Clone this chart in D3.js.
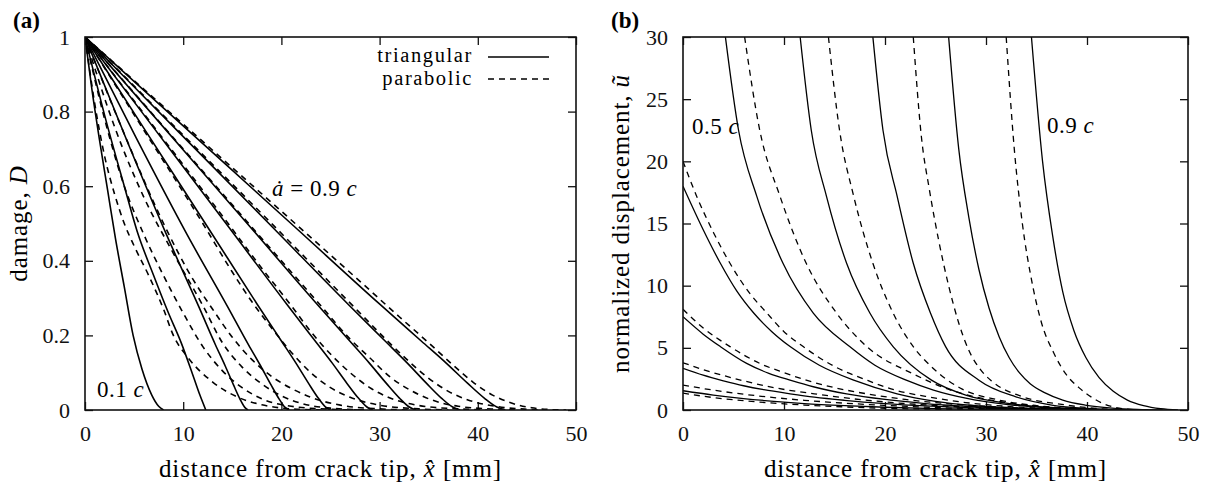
<!DOCTYPE html>
<html>
<head>
<meta charset="utf-8">
<script src="https://cdnjs.cloudflare.com/ajax/libs/d3/7.8.5/d3.min.js"></script>
<style>
    body { margin: 0; background: #fff; }
    svg { display: block; }
    svg text { font-family: "Liberation Serif", "DejaVu Serif", serif; }
    .tick text { font-size: 22px; fill: #111; }
    .tick line { stroke: #111; stroke-width: 1.3; }
</style>
</head>
<body>
<svg width="1211" height="485"></svg>
<script>
"use strict";

// crack speeds 0.1c ... 0.9c, one curve per speed
var speeds = [0.1, 0.2, 0.3, 0.4, 0.5, 0.6, 0.7, 0.8, 0.9];

var distanceTicks = [0, 10, 20, 30, 40, 50];
var damageTicks = [0, 0.2, 0.4, 0.6, 0.8, 1];
var displacementTicks = [0, 5, 10, 15, 20, 25, 30];

// (a) damage D against distance from crack tip [mm]
var damageTriangular = [
    [[0, 1], [0.7, 0.86], [1.5, 0.72], [2.3, 0.59], [3.1, 0.46], [4.0, 0.33],
        [4.9, 0.2], [5.8, 0.11], [6.8, 0.04], [7.5, 0.01], [8.0, 0]],
    [[0, 1], [2, 0.79], [4, 0.6], [5.3, 0.48], [7, 0.36], [8.5, 0.26],
        [9.8, 0.18], [10.9, 0.1], [11.7, 0.04], [12.3, 0]],
    [[0, 1], [4.15, 0.73], [8.3, 0.47], [11.62, 0.275], [13.28, 0.175],
        [14.28, 0.118], [15.11, 0.068], [15.77, 0.03], [16.27, 0.007],
        [16.6, 0]],
    [[0, 1], [5.2, 0.73], [10.4, 0.47], [14.56, 0.275], [16.64, 0.175],
        [17.89, 0.118], [18.93, 0.068], [19.76, 0.03], [20.38, 0.007],
        [20.8, 0]],
    [[0, 1], [6.25, 0.745], [12.5, 0.49], [17.5, 0.285], [20, 0.185],
        [21.5, 0.125], [22.75, 0.072], [23.75, 0.032], [24.5, 0.008],
        [25, 0]],
    [[0, 1], [7.33, 0.745], [14.65, 0.49], [20.51, 0.285], [23.44, 0.185],
        [25.2, 0.125], [26.66, 0.072], [27.84, 0.032], [28.71, 0.008],
        [29.3, 0]],
    [[0, 1], [8.43, 0.745], [16.85, 0.49], [23.59, 0.285], [26.96, 0.185],
        [28.98, 0.125], [30.67, 0.072], [32.02, 0.032], [33.03, 0.008],
        [33.7, 0]],
    [[0, 1], [9.55, 0.745], [19.1, 0.49], [26.74, 0.285], [30.56, 0.185],
        [32.85, 0.125], [34.76, 0.072], [36.29, 0.032], [37.44, 0.008],
        [38.2, 0]],
    [[0, 1], [10.7, 0.745], [21.4, 0.49], [29.96, 0.285], [34.24, 0.185],
        [36.81, 0.125], [38.95, 0.072], [40.66, 0.032], [41.94, 0.008],
        [42.8, 0]]
];

var damageParabolic = [
    [[0, 1], [1, 0.82], [2, 0.68], [3, 0.58], [4, 0.5], [5, 0.44],
        [6.5, 0.36], [8, 0.27], [9, 0.2], [10.5, 0.14], [13, 0.075],
        [15.5, 0.035], [18, 0.014], [21, 0.003], [24, 0]],
    [[0, 1], [2, 0.78], [4, 0.6], [6, 0.47], [8, 0.36], [10, 0.26],
        [12, 0.17], [14, 0.105], [16, 0.06], [18, 0.03], [21, 0.01],
        [25, 0.002], [28, 0]],
    [[0, 1], [3, 0.76], [6, 0.57], [9, 0.42], [12, 0.28], [14, 0.18],
        [16, 0.115], [18, 0.07], [20, 0.038], [22, 0.018], [25, 0.005],
        [29, 0]],
    [[0, 1], [4, 0.74], [8, 0.5], [11, 0.35], [13, 0.27], [15, 0.195],
        [17, 0.135], [19, 0.09], [21, 0.058], [23, 0.034], [26, 0.013],
        [30, 0.003], [33, 0]],
    [[0, 1], [6, 0.75], [12, 0.5], [15, 0.37], [17, 0.29], [19, 0.22],
        [21, 0.155], [23, 0.1], [25, 0.06], [27, 0.034], [30, 0.013],
        [34, 0.003], [37, 0]],
    [[0, 1], [7, 0.76], [14, 0.52], [18, 0.38], [21, 0.28], [23, 0.21],
        [25, 0.15], [27, 0.1], [29, 0.06], [31, 0.033], [34, 0.012],
        [38, 0.003], [41, 0]],
    [[0, 1], [8, 0.76], [16, 0.52], [21, 0.37], [24, 0.28], [27, 0.19],
        [29, 0.14], [31, 0.09], [33, 0.055], [35, 0.03], [38, 0.01],
        [42, 0.002], [44, 0]],
    [[0, 1], [9.5, 0.75], [19, 0.5], [25, 0.34], [28, 0.26], [31, 0.18],
        [33, 0.13], [35, 0.085], [37, 0.05], [39, 0.027], [42, 0.009],
        [45, 0.002], [47, 0]],
    [[0, 1], [10.7, 0.75], [21.4, 0.5], [28, 0.345], [32, 0.25], [35, 0.18],
        [37.5, 0.12], [39.5, 0.075], [41.5, 0.04], [43.5, 0.018],
        [45.5, 0.006], [47.5, 0.001], [49, 0]]
];

// (b) normalized displacement against distance from crack tip [mm]
var displacementTriangular = [
    [[0, 1.55], [3, 1.2], [6, 0.92], [9, 0.7], [12, 0.52], [16, 0.35],
        [20, 0.22], [25, 0.11], [30, 0.04], [35, 0]],
    [[0, 3.35], [2, 2.8], [4, 2.35], [6, 1.95], [8, 1.63], [10.6, 1.3],
        [13, 1.03], [16, 0.78], [20, 0.52], [24, 0.33], [28, 0.19],
        [32, 0.09], [36, 0.03], [40, 0]],
    [[0, 7.5], [2, 6.1], [3.7, 5.1], [6.3, 3.75], [8.5, 2.95], [10.6, 2.4],
        [13, 1.85], [16.2, 1.3], [20, 0.85], [24, 0.52], [28, 0.3],
        [32, 0.15], [36, 0.06], [40, 0.01], [42, 0]],
    [[0, 18], [2, 14.5], [3.7, 11.8], [5.3, 9.6], [7, 7.8], [8.8, 6.3],
        [10.6, 5.1], [13.5, 3.6], [16.9, 2.4], [21.2, 1.3], [25, 0.7],
        [29, 0.35], [33, 0.15], [37, 0.05], [41, 0.01], [44, 0]],
    [[4.2, 30], [5.5, 22.5], [7.3, 17.2], [9.9, 11.8], [12.9, 7.8],
        [16.5, 5.1], [19, 3.6], [22.1, 2.4], [24.8, 1.6], [28, 0.95],
        [32, 0.45], [36, 0.18], [40, 0.05], [44, 0]],
    [[11.6, 30], [12.7, 22.5], [14.2, 17.2], [16.2, 11.8], [18.5, 7.8],
        [20.8, 5.1], [24.6, 2.4], [28, 1.2], [32, 0.55], [36, 0.22],
        [40, 0.07], [44, 0.01], [46, 0]],
    [[18.8, 30], [19.8, 22.5], [21.2, 17.2], [22.8, 11.8], [24.5, 7.8],
        [26, 5.1], [29.3, 2.4], [32.9, 1.07], [36.5, 0.4], [40, 0.12],
        [43, 0.02], [46, 0]],
    [[26.3, 30], [27.3, 21], [28.3, 15.5], [29.3, 11.3], [30.3, 8.2],
        [31.3, 5.9], [32.3, 4.2], [33.3, 3.0], [34.4, 2.1], [35.8, 1.4],
        [37.6, 0.8], [39.8, 0.4], [42.5, 0.15], [45, 0.04], [47.5, 0]],
    [[34.5, 30], [35.6, 20], [36.6, 14], [37.6, 9.5], [38.7, 6.4],
        [39.9, 4.2], [41.2, 2.6], [42.6, 1.5], [44, 0.8], [45.6, 0.35],
        [47.3, 0.1], [49, 0]]
];

var displacementParabolic = [
    [[0, 1.35], [3, 1.0], [6, 0.75], [9, 0.55], [12, 0.4], [16, 0.25],
        [20, 0.14], [25, 0.06], [30, 0.02], [34, 0]],
    [[0, 2.0], [3, 1.6], [6, 1.27], [9, 1.0], [12, 0.78], [16, 0.55],
        [20, 0.37], [25, 0.2], [30, 0.09], [35, 0.03], [39, 0]],
    [[0, 3.8], [2, 3.25], [5.5, 2.45], [9, 1.8], [13, 1.3], [18, 0.8],
        [22, 0.52], [26, 0.32], [30, 0.18], [34, 0.08], [38, 0.02], [41, 0]],
    [[0, 8.1], [2, 6.6], [4.65, 5.1], [7.6, 3.75], [10, 3.0], [12.2, 2.4],
        [15, 1.8], [18.2, 1.3], [22, 0.85], [26, 0.52], [30, 0.3],
        [34, 0.14], [38, 0.05], [42, 0]],
    [[0, 20], [1.35, 17.2], [3, 14.3], [4.65, 11.8], [6.5, 9.5], [8.3, 7.8],
        [10, 6.3], [11.9, 5.1], [15, 3.5], [18.2, 2.4], [21, 1.6],
        [24, 1.1], [28, 0.6], [32, 0.3], [36, 0.12], [40, 0.03], [44, 0]],
    [[6.1, 30], [7.6, 22.5], [9.6, 17.2], [12.2, 11.8], [15.2, 7.8],
        [18.2, 5.1], [22.8, 2.9], [26.5, 1.6], [30.5, 0.8], [34.5, 0.35],
        [38.5, 0.12], [42, 0.02], [45, 0]],
    [[14.4, 30], [15.5, 22.5], [16.9, 17.2], [18.8, 11.8], [20.8, 7.8],
        [22.8, 5.1], [24.7, 3.4], [27.6, 1.7], [31, 0.85], [35, 0.35],
        [39, 0.1], [42, 0.02], [45, 0]],
    [[22.8, 30], [23.6, 22], [24.4, 17.7], [25.3, 13.7], [26.3, 10],
        [27.3, 7], [28.3, 4.8], [29.4, 3.3], [30.6, 2.3], [33.5, 1.1],
        [37.5, 0.45], [41, 0.12], [44, 0]],
    [[32.0, 30], [32.8, 21], [33.6, 15], [34.5, 10.5], [35.5, 7],
        [36.7, 4.6], [37.9, 2.9], [39.2, 1.8], [40.5, 1.0], [41.8, 0.45],
        [43.2, 0.15], [44.6, 0.03], [46, 0]]
];

var serif = "'Liberation Serif', 'DejaVu Serif', serif";
var svg = d3.select("svg");
var plotTop = 37;
var plotBottom = 410;
var tickLength = 8;

var drawPanel = function (spec) {
    var x = d3.scaleLinear().domain([0, 50]).range([spec.left, spec.right]);
    var y = d3.scaleLinear().domain(spec.yDomain)
        .range([plotBottom, plotTop]);
    var g = svg.append("g").attr("font-family", serif);

    var clipId = "clip-" + spec.name;
    svg.append("clipPath")
        .attr("id", clipId)
        .append("rect")
        .attr("x", spec.left)
        .attr("y", plotTop)
        .attr("width", spec.right - spec.left)
        .attr("height", plotBottom - plotTop);

    // inward ticks on all four sides, labels only bottom and left
    g.append("g")
        .attr("transform", "translate(0," + plotBottom + ")")
        .call(d3.axisBottom(x).tickValues(distanceTicks)
            .tickSize(-tickLength).tickPadding(15));
    g.append("g")
        .attr("transform", "translate(0," + plotTop + ")")
        .call(d3.axisTop(x).tickValues(distanceTicks)
            .tickSize(-tickLength).tickFormat(""));
    g.append("g")
        .attr("transform", "translate(" + spec.left + ",0)")
        .call(d3.axisLeft(y).tickValues(spec.yTicks)
            .tickSize(-tickLength).tickPadding(15)
            .tickFormat(function (d) {
                return String(d);
            }));
    g.append("g")
        .attr("transform", "translate(" + spec.right + ",0)")
        .call(d3.axisRight(y).tickValues(spec.yTicks)
            .tickSize(-tickLength).tickFormat(""));
    g.selectAll(".domain").remove();
    g.selectAll("g > g").attr("font-family", serif).attr("font-size", null);

    var line = d3.line()
        .x(function (d) {
            return x(d[0]);
        })
        .y(function (d) {
            return y(d[1]);
        })
        .curve(d3.curveMonotoneX);

    var curves = g.append("g").attr("clip-path", "url(#" + clipId + ")");
    curves.selectAll("path.parabolic")
        .data(spec.dashed)
        .join("path")
        .attr("class", "parabolic")
        .attr("d", line)
        .attr("fill", "none")
        .attr("stroke", "#000")
        .attr("stroke-width", spec.lineWidth)
        .attr("stroke-dasharray", "6,5");
    curves.selectAll("path.triangular")
        .data(spec.solid)
        .join("path")
        .attr("class", "triangular")
        .attr("d", line)
        .attr("fill", "none")
        .attr("stroke", "#000")
        .attr("stroke-width", spec.lineWidth);

    g.append("rect")
        .attr("x", spec.left)
        .attr("y", plotTop)
        .attr("width", spec.right - spec.left)
        .attr("height", plotBottom - plotTop)
        .attr("fill", "none")
        .attr("stroke", "#111")
        .attr("stroke-width", 1.6);

    // titles are set wider than Times to follow the LaTeX lettering
    var xTitle = g.append("text")
        .attr("x", (spec.left + spec.right) / 2)
        .attr("y", 477)
        .attr("text-anchor", "middle")
        .attr("font-size", 25)
        .attr("letter-spacing", 0.9)
        .style("white-space", "pre");
    xTitle.append("tspan").text("distance from crack tip, ");
    xTitle.append("tspan").attr("font-style", "italic").text("x\u0302");
    xTitle.append("tspan").text(" [mm]");

    var yTitle = g.append("text")
        .attr("transform", "translate(" + spec.yTitleX + "," +
                ((plotTop + plotBottom) / 2) + ") rotate(-90)")
        .attr("text-anchor", "middle")
        .attr("font-size", 25)
        .attr("letter-spacing", 0.9)
        .style("white-space", "pre");
    yTitle.append("tspan").text(spec.yTitle);
    yTitle.append("tspan").attr("font-style", "italic").text(spec.yVar);

    g.append("text")
        .attr("x", spec.left - 72)
        .attr("y", 28)
        .attr("font-size", 23)
        .attr("font-weight", "bold")
        .text(spec.panel);

    spec.notes.forEach(function (note) {
        var t = g.append("text")
            .attr("x", note.x)
            .attr("y", note.y)
            .attr("font-size", 23)
            .attr("letter-spacing", 0.5)
            .style("white-space", "pre");
        note.parts.forEach(function (part) {
            t.append("tspan")
                .attr("font-style", part[1] ? "italic" : null)
                .text(part[0]);
        });
    });

    return g;
};

var panelA = drawPanel({
    name: "a",
    panel: "(a)",
    left: 85,
    right: 576,
    yDomain: [0, 1],
    yTicks: damageTicks,
    solid: damageTriangular,
    dashed: damageParabolic,
    lineWidth: 1.6,
    yTitleX: 27,
    yTitle: "damage, ",
    yVar: "D",
    notes: [
        {x: 272, y: 196, parts: [["\u0227", true], [" = 0.9 ", false],
                ["c", true]]},
        {x: 97, y: 397, parts: [["0.1 ", false], ["c", true]]}
    ]
});

drawPanel({
    name: "b",
    panel: "(b)",
    left: 683,
    right: 1188,
    yDomain: [0, 30],
    yTicks: displacementTicks,
    solid: displacementTriangular,
    dashed: displacementParabolic,
    lineWidth: 1.3,
    yTitleX: 629,
    yTitle: "normalized displacement, ",
    yVar: "\u0169",
    notes: [
        {x: 692, y: 134, parts: [[speeds[4] + " ", false], ["c", true]]},
        {x: 1047, y: 133, parts: [[speeds[8] + " ", false], ["c", true]]}
    ]
});

// legend, top right of panel (a)
var legend = panelA.append("g")
    .attr("font-size", 20.5)
    .attr("letter-spacing", 1.6);
[["triangular", null, 62, 57], ["parabolic", "6,5", 85, 79]]
    .forEach(function (row) {
        legend.append("text")
            .attr("x", 473)
            .attr("y", row[2])
            .attr("text-anchor", "end")
            .text(row[0]);
        legend.append("line")
            .attr("x1", 488)
            .attr("x2", 549)
            .attr("y1", row[3])
            .attr("y2", row[3])
            .attr("stroke", "#000")
            .attr("stroke-width", 1.5)
            .attr("stroke-dasharray", row[1]);
    });
</script>
</body>
</html>
